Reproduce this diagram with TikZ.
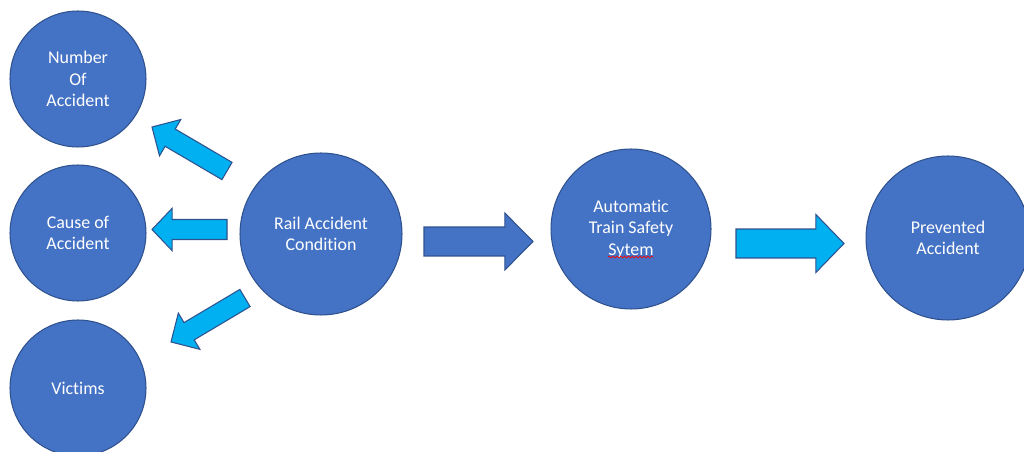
\documentclass[tikz,border=0pt]{standalone}
\usepackage{fontspec}
\setmainfont{Carlito}[Ligatures=NoCommon]
\usepackage{tikz}
\usetikzlibrary{calc, decorations.pathmorphing}
\definecolor{circblue}{RGB}{68, 114, 196}
\definecolor{edgeblue}{RGB}{47, 82, 143}
\definecolor{skyblue}{RGB}{0, 176, 240}

% block arrow: style, tail, tip, shaft half width, head half width, head length
\newcommand{\blockarrow}[6]{%
  \coordinate (#2-h) at ($(#3)!#6!(#2)$);
  \draw[#1] ($(#2)!#4!90:(#3)$) -- ($(#2-h)!#4!90:(#3)$) -- ($(#2-h)!#5!90:(#3)$)
    -- (#3) -- ($(#2-h)!#5!-90:(#3)$) -- ($(#2-h)!#4!-90:(#3)$) -- ($(#2)!#4!-90:(#3)$) -- cycle;
}

\begin{document}
\begin{tikzpicture}[x=0.02cm, y=-0.02cm, line cap=round, line join=miter,
    bubble/.style={circle, fill=circblue, draw=edgeblue, line width=0.6pt, text=white,
      align=center, inner sep=0pt, font=\fontsize{10.2}{12.3}\selectfont},
    lightarrow/.style={fill=skyblue, draw=edgeblue, line width=0.6pt},
    darkarrow/.style={fill=circblue, draw=edgeblue, line width=0.6pt}]
    \useasboundingbox (0,0) rectangle (1024,452);

    \node[bubble, minimum size=2.72cm] (num) at (78,79) {Number\\Of\\Accident};
    \node[bubble, minimum size=2.72cm] (cause) at (78,233) {Cause of\\Accident};
    \node[bubble, minimum size=2.72cm] (victims) at (78,388) {Victims};
    \node[bubble, minimum size=3.24cm] (rail) at (321,234) {Rail Accident\\Condition};
    \node[bubble, minimum size=3.2cm] (atss) at (631,229) {Automatic\\Train Safety\\Sytem};
    \node[bubble, minimum size=3.28cm] (prevented) at (948,238) {Prevented\\Accident};

    \coordinate (ul-tail) at (227,171);
    \coordinate (ul-tip) at (152,127);
    \coordinate (l-tail) at (227,229.5);
    \coordinate (l-tip) at (152,229.5);
    \coordinate (dl-tail) at (245,298);
    \coordinate (dl-tip) at (171,342);
    \coordinate (r1-tail) at (424,241.5);
    \coordinate (r1-tip) at (533,241.5);
    \coordinate (r2-tail) at (736,243.5);
    \coordinate (r2-tip) at (844,243.5);

    \blockarrow{lightarrow}{ul-tail}{ul-tip}{5.7pt}{12pt}{12pt}
    \blockarrow{lightarrow}{l-tail}{l-tip}{5.7pt}{12pt}{11.4pt}
    \blockarrow{lightarrow}{dl-tail}{dl-tip}{5.7pt}{12pt}{12pt}
    \blockarrow{darkarrow}{r1-tail}{r1-tip}{8.25pt}{16.2pt}{16pt}
    \blockarrow{lightarrow}{r2-tail}{r2-tip}{8.25pt}{16.5pt}{16pt}

    % spell-check mark
    \draw[red, line width=0.4pt, decorate, decoration={snake, amplitude=0.5pt, segment length=2.2pt}]
      (608,257) -- (653,257);
\end{tikzpicture}
\end{document}
